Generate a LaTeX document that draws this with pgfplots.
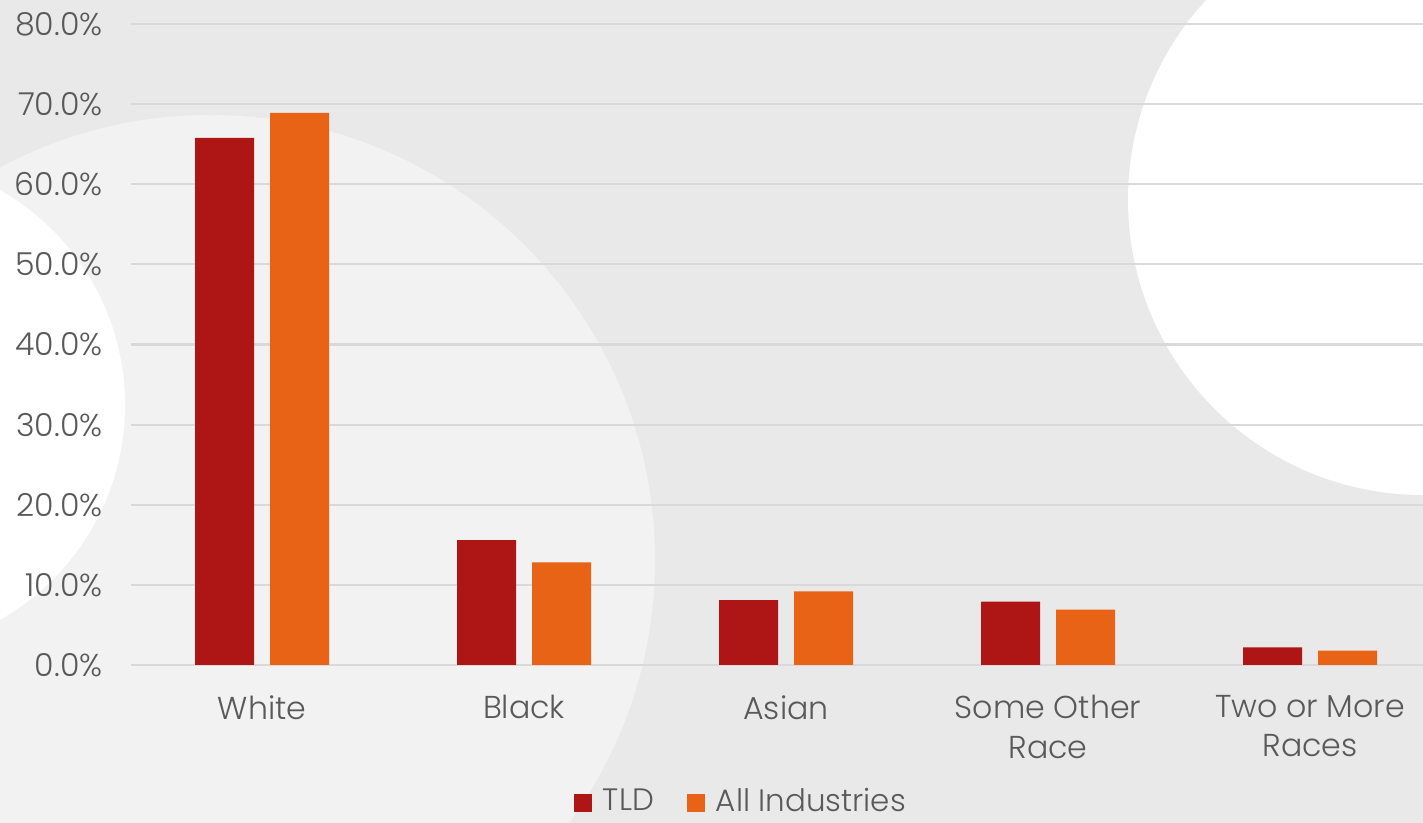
\documentclass[border=0pt]{standalone}
\usepackage{fontspec}
\setmainfont{Poppins}[UprightFont=* Light]
\usepackage{pgfplots}
\pgfplotsset{compat=1.18}
\definecolor{bgA}{HTML}{E9E9E9}
\definecolor{bgB}{HTML}{F2F2F2}
\definecolor{gridc}{HTML}{D9D9D9}
\definecolor{txt}{HTML}{595959}
\definecolor{tld}{HTML}{AE1515}
\definecolor{allind}{HTML}{E86315}
\begin{document}
\begin{tikzpicture}
% background, 0.1mm = 1 px of the 1423x823 reference (y upwards)
\path[use as bounding box] (0,0) rectangle (142.3mm,82.3mm);
\begin{scope}[x=0.1mm,y=0.1mm]
  \clip (0,0) rectangle (1423,823);
  \fill[bgA] (0,0) rectangle (1423,823);
  \fill[bgB] (210,263) circle[radius=44.5mm];
  \fill[white] (-122,418) circle[radius=24.7mm];
  \fill[white] (1423,623) circle[radius=29.5mm];
\end{scope}
\begin{axis}[
    at={(13.1mm,15.8mm)}, anchor=south west,
    scale only axis,
    width=129.2mm, height=64.1mm,
    xmin=-0.5, xmax=4.431,
    ymin=0, ymax=80,
    ybar=1.6mm, bar width=5.9mm,
    axis line style={draw=none},
    ytick={0,10,...,80},
    yticklabel={\pgfmathprintnumber[fixed,fixed zerofill,precision=1]{\tick}\%},
    /pgf/number format/assume math mode=true,
    ymajorgrids, grid style={gridc, line width=0.6pt},
    major tick length=0pt,
    xtick={0,1,2,3,4},
    xticklabels={White,Black,Asian,{Some Other\\Race},{Two or More\\Races}},
    xticklabel style={align=center, text=txt, font=\fontsize{9}{11.2}\selectfont, yshift=-1.8mm},
    yticklabel style={text=txt, font=\fontsize{9}{11}\selectfont, xshift=-1.6mm},
    legend style={at={(0.474,-0.215)}, anchor=center, draw=none, fill=none,
                  legend columns=2, font=\fontsize{8.8}{11}\selectfont, text=txt,
                  /tikz/every odd column/.append style={column sep=0.4mm},
                  /tikz/every even column/.append style={column sep=2.6mm}},
    legend image code/.code={\fill[#1] (0mm,-0.9mm) rectangle (1.8mm,0.9mm);},
]
\addplot[fill=tld, draw=none] coordinates {
    (0,65.8) (1,15.6) (2,8.1) (3,7.9) (4,2.2)
};
\addlegendentry{TLD}
\addplot[fill=allind, draw=none] coordinates {
    (0,68.9) (1,12.8) (2,9.2) (3,6.9) (4,1.8)
};
\addlegendentry{All Industries}
\end{axis}
\end{tikzpicture}
\end{document}
